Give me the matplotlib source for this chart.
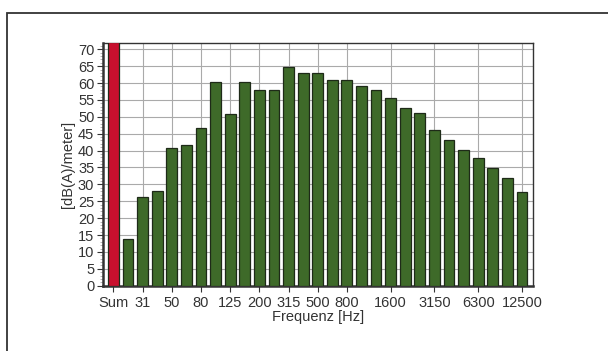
import matplotlib
matplotlib.use("Agg")
import matplotlib.pyplot as plt
from matplotlib.ticker import MultipleLocator
from matplotlib.patches import Rectangle

categories = ["Sum", "25", "31", "40", "50", "63", "80", "100", "125", "160", "200",
              "250", "315", "400", "500", "630", "800", "1000", "1250", "1600",
              "2000", "2500", "3150", "4000", "5000", "6300", "8000", "10000", "12500"]
values = [72, 13.9, 26.4, 28.1, 40.9, 41.7, 46.8, 60.2, 50.7, 60.2, 58.0,
          58.0, 64.6, 63.1, 63.1, 60.9, 60.9, 59.1, 58.0, 55.6,
          52.6, 51.1, 46.2, 43.2, 40.2, 37.7, 34.9, 31.9, 27.8]
tick_labels = ["Sum", "31", "50", "80", "125", "200", "315", "500", "800",
               "1600", "3150", "6300", "12500"]

plt.rcParams["font.family"] = ["Liberation Sans", "DejaVu Sans"]

colors = ["#c8102e"] + ["#3e6a29"] * (len(values) - 1)

fig = plt.figure(figsize=(6.08, 3.51), dpi=100)
fig.patches.append(Rectangle((7 / 608, -0.1), 1.2, 1 - 13 / 351 + 0.1,
                             transform=fig.transFigure, fill=False,
                             edgecolor="#333333", linewidth=1.3))
ax = fig.add_axes([0.170, 0.186, 0.706, 0.691])
x = list(range(len(categories)))
ax.bar(x, values, width=0.74, color=colors, edgecolor="#1e2a18", linewidth=0.9, zorder=3)

tick_pos = [categories.index(t) for t in tick_labels]
ax.set_xticks(tick_pos)
ax.set_xticklabels(tick_labels)
ax.set_xlim(-0.69, len(categories) - 1 + 0.73)
ax.set_ylim(0, 71.8)
ax.yaxis.set_major_locator(MultipleLocator(5))
ax.yaxis.set_minor_locator(MultipleLocator(1))
ax.grid(True, which="major", color="#aaaaaa", linewidth=0.8, zorder=0)
ax.set_axisbelow(True)
for s in ax.spines.values():
    s.set_color("#333333")
    s.set_linewidth(1.0)
ax.spines["left"].set_linewidth(1.8)
ax.spines["bottom"].set_linewidth(1.8)
ax.tick_params(axis="both", labelsize=10.5, colors="#333333", length=4, width=0.8)
ax.tick_params(axis="x", pad=3.5)
ax.tick_params(axis="y", pad=2.5)
ax.tick_params(axis="y", which="minor", length=2.5, width=0.5, color="#999999")
ax.set_xlabel("Frequenz [Hz]", fontsize=10.5, color="#333333", labelpad=0)
ax.set_ylabel("[dB(A)/meter]", fontsize=10.5, color="#333333", labelpad=2)

fig.savefig("out.png", dpi=100)
